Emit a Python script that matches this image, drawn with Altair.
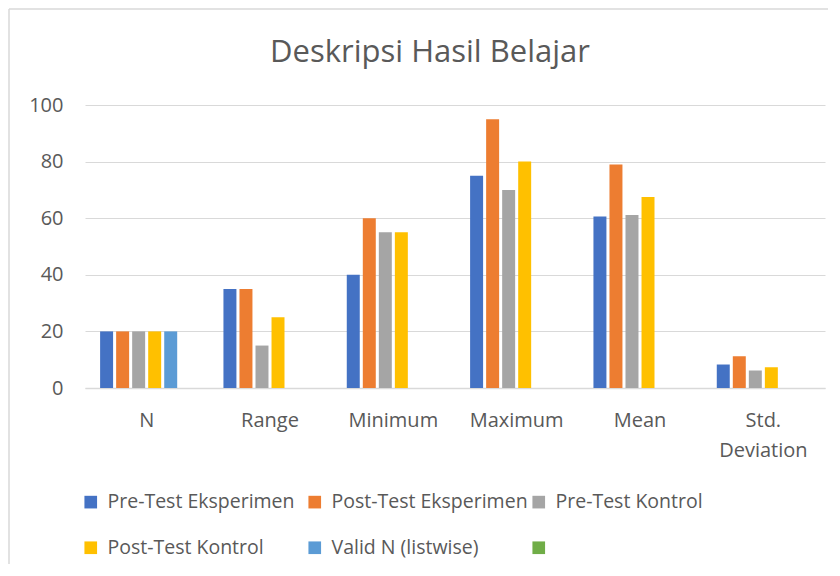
import altair as alt
import pandas as pd

title_text = "Deskripsi Hasil Belajar"
categories = ["N", "Range", "Minimum", "Maximum", "Mean", "Std. Deviation"]
series = ["Pre-Test Eksperimen", "Post-Test Eksperimen", "Pre-Test Kontrol",
          "Post-Test Kontrol", "Valid N (listwise)", " "]
colors = ["#4472C4", "#ED7D31", "#A5A5A5", "#FFC000", "#5B9BD5", "#70AD47"]

pre_eksperimen = [20, 35, 40, 75, 60.6, 8.3]
post_eksperimen = [20, 35, 60, 95, 79.0, 11.2]
pre_kontrol = [20, 15, 55, 70, 61.1, 6.2]
post_kontrol = [20, 25, 55, 80, 67.5, 7.3]
valid_n = [20, None, None, None, None, None]

rows = []
for s, vals in zip(series[:5], [pre_eksperimen, post_eksperimen, pre_kontrol, post_kontrol, valid_n]):
    for c, v in zip(categories, vals):
        if v is not None:
            rows.append({"Kategori": c, "Seri": s, "Nilai": v})
df = pd.DataFrame(rows)

FONT = "Open Sans"
TXT = "#595959"
GRID = "#D9D9D9"

bars = alt.Chart(df).mark_bar().encode(
    x=alt.X("Kategori:N", sort=categories, title=None,
            scale=alt.Scale(domain=categories, paddingInner=0.245, paddingOuter=0.1225),
            axis=alt.Axis(labelAngle=0, labelFontSize=20, labelColor=TXT, labelFont=FONT,
                          labelPadding=22, ticks=False, domainColor=GRID, domainWidth=1.5,
                          labelLineHeight=30,
                          labelExpr="datum.label == 'Std. Deviation' ? ['Std.', 'Deviation'] : datum.label")),
    xOffset=alt.XOffset("Seri:N", scale=alt.Scale(domain=series, paddingInner=0.19, paddingOuter=0)),
    y=alt.Y("Nilai:Q", title=None,
            scale=alt.Scale(domain=[0, 100]),
            axis=alt.Axis(values=[0, 20, 40, 60, 80, 100], labelFontSize=20, labelColor=TXT,
                          labelFont=FONT, labelPadding=22, ticks=False, domain=False,
                          gridColor=GRID, gridWidth=1.2)),
    color=alt.Color("Seri:N", scale=alt.Scale(domain=series, range=colors),
                    legend=alt.Legend(title=None, orient="none", legendX=-4, legendY=387,
                                      direction="horizontal", columns=3, gridAlign="all",
                                      columnPadding=1, rowPadding=25,
                                      labelFontSize=19.5, labelColor=TXT, labelFont=FONT,
                                      labelLimit=300, symbolType="square", symbolSize=160,
                                      symbolStrokeWidth=0, labelOffset=7)),
)

frame = pd.DataFrame({"a": [0]})
border_left = alt.Chart(frame).mark_rule(stroke=GRID, strokeWidth=1.5, clip=False).encode(
    x=alt.value(-76), y=alt.value(-96), y2=alt.value(520))
border_top = alt.Chart(frame).mark_rule(stroke=GRID, strokeWidth=1.5, clip=False).encode(
    x=alt.value(-76), x2=alt.value(745), y=alt.value(-96))

title = alt.Chart(pd.DataFrame({"t": [title_text]})).mark_text(
    font=FONT, fontSize=31, color=TXT, align="center", baseline="alphabetic"
).encode(text="t:N", x=alt.value(345), y=alt.value(-43))

chart = alt.layer(border_left, border_top, bars, title).properties(
    width=740, height=283,
    autosize=alt.AutoSizeParams(type="none"),
    padding={"left": 77, "top": 97, "right": 3, "bottom": 176},
).configure_view(stroke=None)

chart.save("out.html", embed_options={"renderer": "svg", "actions": False})
